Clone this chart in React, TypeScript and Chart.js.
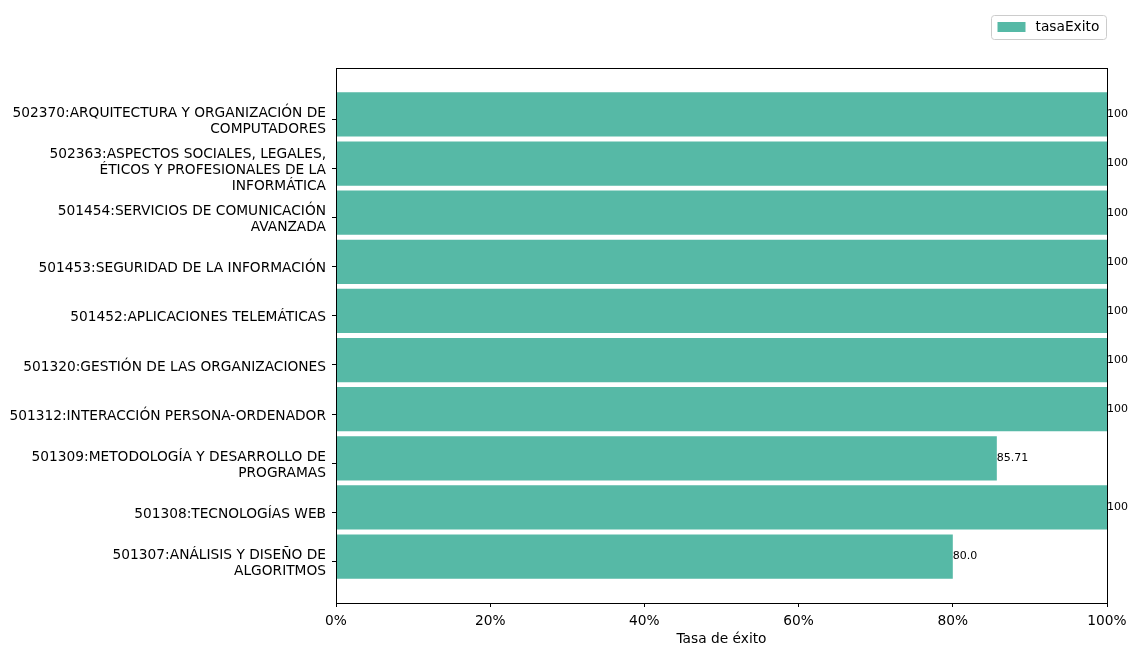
import React, { useEffect, useRef } from 'react';
import { Chart, registerables } from 'chart.js';

Chart.register(...registerables);

// Categories listed bottom-to-top (matplotlib barh order), each as wrapped lines
const categoryLines: string[][] = [
  ['501307:ANÁLISIS Y DISEÑO DE', 'ALGORITMOS'],
  ['501308:TECNOLOGÍAS WEB'],
  ['501309:METODOLOGÍA Y DESARROLLO DE', 'PROGRAMAS'],
  ['501312:INTERACCIÓN PERSONA-ORDENADOR'],
  ['501320:GESTIÓN DE LAS ORGANIZACIONES'],
  ['501452:APLICACIONES TELEMÁTICAS'],
  ['501453:SEGURIDAD DE LA INFORMACIÓN'],
  ['501454:SERVICIOS DE COMUNICACIÓN', 'AVANZADA'],
  ['502363:ASPECTOS SOCIALES, LEGALES,', 'ÉTICOS Y PROFESIONALES DE LA', 'INFORMÁTICA'],
  ['502370:ARQUITECTURA Y ORGANIZACIÓN DE', 'COMPUTADORES'],
];

const tasaExito: number[] = [80.0, 100, 85.71, 100, 100, 100, 100, 100, 100, 100];
const valueLabels: string[] = ['80.0', '100', '85.71', '100', '100', '100', '100', '100', '100', '100'];
const xTickValues: number[] = [0, 20, 40, 60, 80, 100];

const seriesName = 'tasaExito';
const xTitle = 'Tasa de éxito';
const barColor = '#56b9a6';
const FONT = '"DejaVu Sans", sans-serif';
const FS = 13.75;

export default function App() {
  const canvasRef = useRef<HTMLCanvasElement | null>(null);

  useEffect(() => {
    const canvas = canvasRef.current;
    if (!canvas) return;

    const framePlugin = {
      id: 'frameAndLabels',
      afterDatasetsDraw(chart: any) {
        const ctx = chart.ctx;
        const area = chart.chartArea;
        ctx.save();
        const meta = chart.getDatasetMeta(0);
        ctx.font = `11px ${FONT}`;
        ctx.fillStyle = '#000';
        ctx.textAlign = 'left';
        ctx.textBaseline = 'middle';
        meta.data.forEach((bar: any, i: number) => {
          ctx.fillText(valueLabels[i], bar.x, bar.y);
        });
        ctx.strokeStyle = '#000';
        ctx.lineWidth = 1;
        ctx.strokeRect(Math.round(area.left) + 0.5, Math.round(area.top) + 0.5,
          Math.round(area.right - area.left), Math.round(area.bottom - area.top));
        ctx.restore();
      },
      afterDraw(chart: any) {
        const ctx = chart.ctx;
        const area = chart.chartArea;
        ctx.save();
        const w = 115, h = 24;
        const x = Math.round(area.right) - w - 0.5;
        const y = 15.5;
        const r = 3;
        ctx.beginPath();
        ctx.moveTo(x + r, y);
        ctx.lineTo(x + w - r, y);
        ctx.arcTo(x + w, y, x + w, y + r, r);
        ctx.lineTo(x + w, y + h - r);
        ctx.arcTo(x + w, y + h, x + w - r, y + h, r);
        ctx.lineTo(x + r, y + h);
        ctx.arcTo(x, y + h, x, y + h - r, r);
        ctx.lineTo(x, y + r);
        ctx.arcTo(x, y, x + r, y, r);
        ctx.closePath();
        ctx.fillStyle = 'rgba(255,255,255,0.8)';
        ctx.fill();
        ctx.strokeStyle = '#cccccc';
        ctx.lineWidth = 1;
        ctx.stroke();
        ctx.fillStyle = barColor;
        ctx.fillRect(x + 6, y + 6.5, 28, 10);
        ctx.fillStyle = '#000';
        ctx.font = `${FS}px ${FONT}`;
        ctx.textAlign = 'left';
        ctx.textBaseline = 'middle';
        ctx.fillText(seriesName, x + 44, y + h / 2);
        ctx.restore();
      },
    };

    const chart = new Chart(canvas, {
      type: 'bar',
      data: {
        datasets: [
          {
            label: seriesName,
            data: tasaExito.map((v, i) => ({ x: v, y: i })),
            backgroundColor: barColor,
            borderWidth: 0,
            categoryPercentage: 1.0,
            barPercentage: 0.9,
          },
        ],
      },
      options: {
        indexAxis: 'y',
        responsive: false,
        animation: false,
        layout: { padding: { top: 68, right: 21, bottom: 0, left: 0 } },
        plugins: {
          legend: { display: false },
          tooltip: { enabled: false },
        },
        scales: {
          x: {
            type: 'linear',
            min: 0,
            max: 100,
            offset: false,
            afterFit: (scale: any) => {
              scale.height = 43;
              scale.paddingLeft = 0;
              scale.paddingRight = 0;
            },
            afterBuildTicks: (scale: any) => {
              scale.ticks = xTickValues.map((v) => ({ value: v }));
            },
            ticks: {
              callback: (v: any) => `${v}%`,
              color: '#000',
              font: { family: FONT, size: FS },
              padding: 6,
              maxRotation: 0,
            },
            grid: {
              offset: false,
              drawOnChartArea: false,
              drawTicks: true,
              tickLength: 4,
              color: '#000',
            },
            border: { display: true, color: '#000' },
            title: {
              display: true,
              text: xTitle,
              color: '#000',
              font: { family: FONT, size: FS },
              padding: { top: 0, bottom: -2 },
            },
          },
          y: {
            type: 'linear',
            min: -0.945,
            max: 9.945,
            offset: false,
            afterFit: (scale: any) => {
              scale.width = 336;
              scale.paddingTop = 0;
              scale.paddingBottom = 0;
            },
            afterBuildTicks: (scale: any) => {
              scale.ticks = categoryLines.map((_, i) => ({ value: i - 0.1 }));
            },
            ticks: {
              callback: (_v: any, index: number) => categoryLines[index],
              color: '#000',
              font: { family: FONT, size: FS, lineHeight: 1.17 },
              padding: 6,
              labelOffset: 2,
              autoSkip: false,
            },
            grid: {
              offset: false,
              drawOnChartArea: false,
              drawTicks: true,
              tickLength: 4,
              color: '#000',
            },
            border: { display: true, color: '#000' },
          },
        },
      },
      plugins: [framePlugin],
    });

    return () => chart.destroy();
  }, []);

  return (
    <div style={{ position: 'fixed', left: 0, top: 0, width: 1128, height: 646, background: '#fff' }}>
      <canvas ref={canvasRef} width={1128} height={646} />
    </div>
  );
}
